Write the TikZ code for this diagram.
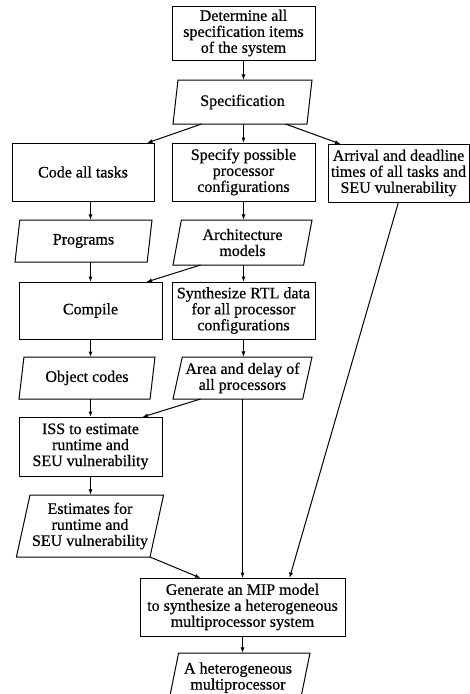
\documentclass[tikz,border=0pt]{standalone}
\usepackage{fontspec}
\setmainfont[FakeBold=0.6]{Liberation Serif}
\usetikzlibrary{shapes.geometric,arrows.meta}
\begin{document}
\begin{tikzpicture}[x=1pt,y=-1pt,
  every node/.style={font=\fontsize{16}{16}\selectfont, align=center, outer sep=0pt},
  procbox/.style={draw, line width=1pt, rectangle, inner sep=2pt},
  databox/.style={draw, line width=1pt, trapezium, trapezium left angle=75,
    trapezium right angle=105, trapezium stretches body, inner xsep=2pt, inner ysep=2pt},
  flow/.style={line width=1pt, -{Latex[length=5.5pt,width=4pt]}}]
\clip (0,0) rectangle (470,694);
% nodes
\node[procbox, minimum width=143pt, minimum height=54pt] (det) at (243.5,33)
  {Determine all\\specification items\\of the system};
\node[databox, minimum width=139pt, minimum height=44pt] (spec) at (242.5,102) {Specification};
\node[procbox, minimum width=142pt, minimum height=58pt] (code) at (83,172) {Code all tasks};
\node[procbox, minimum width=143pt, minimum height=58pt] (specify) at (243.5,172)
  {Specify possible\\processor\\configurations};
\node[procbox, minimum width=141pt, minimum height=58pt] (arr) at (398.5,173)
  {Arrival and deadline\\times of all tasks and\\SEU vulnerability};
\node[databox, minimum width=137pt, minimum height=42pt] (prog) at (83.5,241) {Programs};
\node[databox, minimum width=139pt, minimum height=45pt] (arch) at (242.5,242.5)
  {Architecture\\models};
\node[procbox, minimum width=143pt, minimum height=57pt] (compile) at (90.5,310.5) {Compile};
\node[procbox, minimum width=143pt, minimum height=57pt] (synth) at (243.5,310.5)
  {Synthesize RTL data\\for all processor\\configurations};
\node[databox, minimum width=136pt, minimum height=42pt] (obj) at (87,378) {Object codes};
\node[databox, minimum width=139pt, minimum height=42pt] (area) at (242.5,378)
  {Area and delay of\\all processors};
\node[procbox, minimum width=143pt, minimum height=59pt] (iss) at (90.5,446.5)
  {ISS to estimate\\runtime and\\SEU vulnerability};
\node[databox, minimum width=144pt, minimum height=62pt] (est) at (90,526)
  {Estimates for\\runtime and\\SEU vulnerability};
\node[procbox, minimum width=205pt, minimum height=58pt] (mip) at (242.5,607)
  {Generate an MIP model\\to synthesize a heterogeneous\\multiprocessor system};
\node[databox, minimum width=144pt, minimum height=62pt] (final) at (238,684)
  {A heterogeneous\\multiprocessor\\\mbox{}};
% connectors
\draw[flow] (det.south) -- (det.south |- spec.north);
\draw[flow] ([xshift=-41pt]spec.south) -- ([xshift=64pt]code.north);
\draw[flow] (spec.south -| specify.north) -- (specify.north);
\draw[flow] ([xshift=43pt]spec.south) -- ([xshift=-58pt]arr.north);
\draw[flow] (code.south -| compile.north) -- (prog.north -| compile.north);
\draw[flow] (specify.south) -- (specify.south |- arch.north);
\draw[flow] (prog.south -| compile.north) -- (compile.north);
\draw[flow] (arch.south -| synth.north) -- (synth.north);
\draw[flow] ([xshift=-42pt]arch.south) -- ([xshift=56pt]compile.north);
\draw[flow] (compile.south) -- (compile.south |- obj.north);
\draw[flow] (synth.south) -- (synth.south |- area.north);
\draw[flow] (obj.south -| iss.north) -- (iss.north);
\draw[flow] ([xshift=-42pt]area.south) -- ([xshift=52pt]iss.north);
\draw[flow] (iss.south) -- (iss.south |- est.north);
\draw[flow] (est.bottom right corner) -- ([xshift=-42pt]mip.north);
\draw[flow] (area.south) -- (area.south |- mip.north);
\draw[flow] (arr.south) -- ([xshift=47pt]mip.north);
\draw[flow] (mip.south) -- (mip.south |- final.north);
\end{tikzpicture}
\end{document}
